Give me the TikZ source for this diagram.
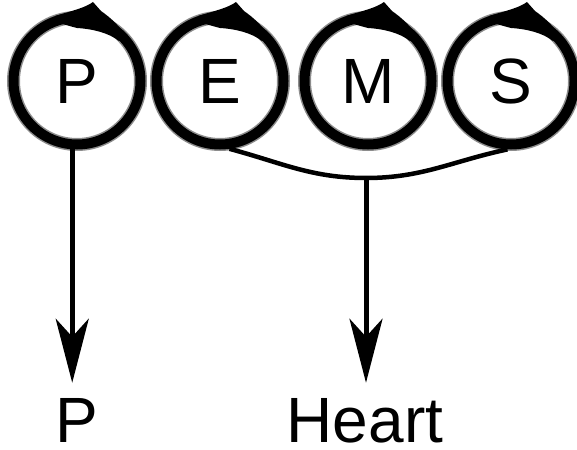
\documentclass[tikz,border=0pt]{standalone}
\usepackage{fontspec}
\setmainfont{Liberation Sans}
\usetikzlibrary{arrows.meta}
\begin{document}
\begin{tikzpicture}[x=1pt,y=-1pt,
  ring/.style={circle,draw=black,line width=10pt,minimum size=127pt,inner sep=0pt,
    font=\fontsize{64}{64}\selectfont},
  halo/.style={draw=black!45,line width=13pt},
  lbl/.style={inner sep=0pt,anchor=base,font=\fontsize{64}{64}\selectfont},
  conn/.style={line width=4.5pt},
  arr/.style={line width=5pt,shorten >=15pt,-{Stealth[length=64pt,width=33pt,inset=18pt]}},
  cusp/.pic={\fill[black] (-22,-65) .. controls (-6,-70) and (8,-73) .. (16,-79)
      -- (24,-70) .. controls (34,-63) and (44,-54) .. (50,-42)
      -- (42,-40) .. controls (32,-48) and (16,-52) .. (0,-53)
      .. controls (-8,-55) and (-14,-57) .. (-22,-59) -- cycle;}]
\useasboundingbox (0,0) rectangle (577,449);
\foreach \x in {77,220,368,511} {\draw[halo] (\x,81) circle (63.5);}
\node[ring] (p) at (77,81) {P};
\node[ring] (e) at (220,81) {E};
\node[ring] (m) at (368,81) {M};
\node[ring] (s) at (511,81) {S};
\foreach \n in {p,e,m,s} {\pic at (\n.center) {cusp};}
\node[lbl] (pb) at (77,442) {P};
\node[lbl] (heart) at (365,442) {Heart};
\coordinate (j) at (366,178);
\draw[conn] (e.-82) to[out=-15,in=180] (j) to[out=0,in=-168] (s.-93);
\draw[arr] (p.-94) -- (p.-94 |- pb.north);
\draw[arr] (j) -- (j |- heart.north);
\end{tikzpicture}
\end{document}
